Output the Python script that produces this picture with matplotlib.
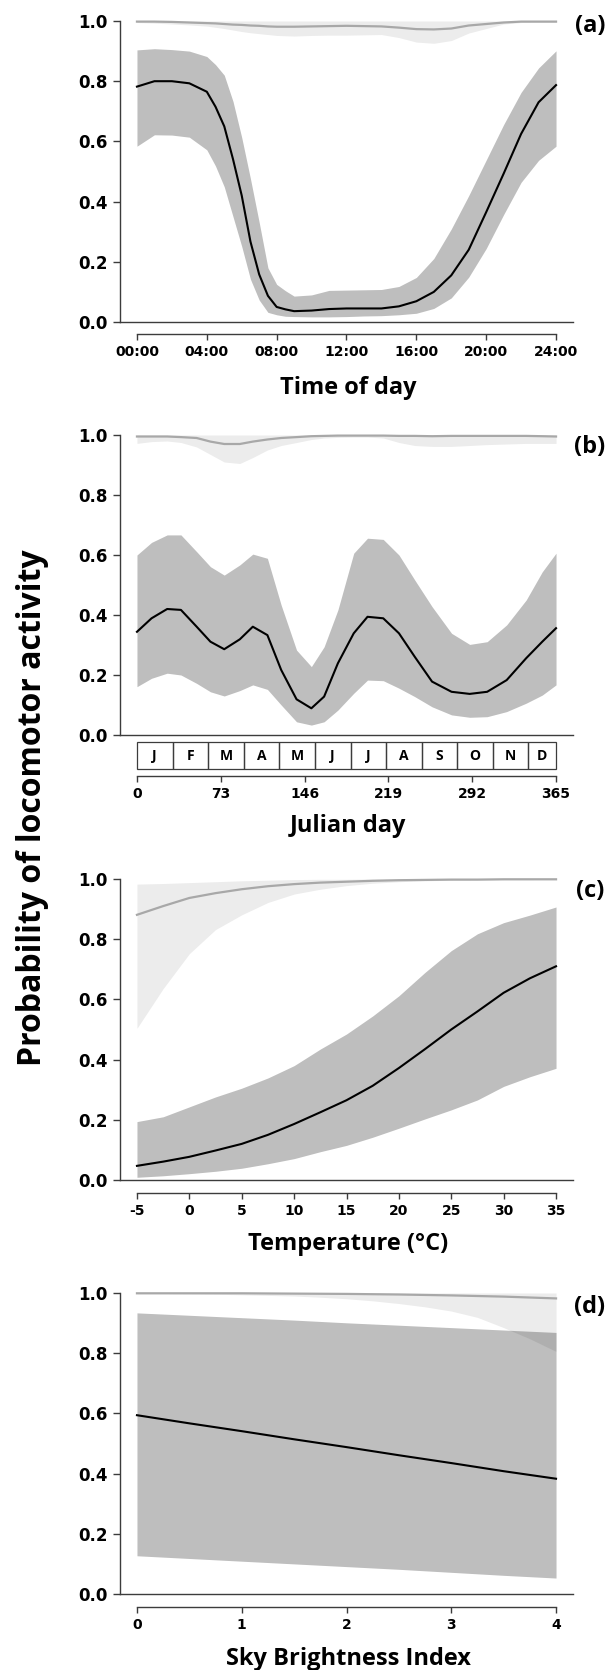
import matplotlib
matplotlib.use('Agg')
import matplotlib.pyplot as plt
from matplotlib.patches import Rectangle
from matplotlib.transforms import blended_transform_factory

plt.rcParams['font.family'] = ['Open Sans', 'DejaVu Sans']
plt.rcParams['font.weight'] = 'bold'

# %% data

# (a) time of day
hours = [0, 1, 2, 3, 4, 4.5, 5, 5.5, 6, 6.5, 7, 7.5, 8, 8.5, 9, 10, 11, 12, 13, 14, 15, 16, 17, 18,
         19, 20, 21, 22, 23, 24]
a_mean = [0.782, 0.800, 0.800, 0.793, 0.765, 0.715, 0.650, 0.541, 0.420, 0.267, 0.158, 0.087, 0.050,
          0.042, 0.036, 0.038, 0.043, 0.045, 0.045, 0.045, 0.052, 0.069, 0.100, 0.155, 0.240, 0.365,
          0.493, 0.625, 0.730, 0.787]
a_hi = [0.904, 0.908, 0.905, 0.900, 0.882, 0.855, 0.820, 0.733, 0.613, 0.476, 0.331, 0.180, 0.125,
        0.104, 0.086, 0.090, 0.105, 0.106, 0.107, 0.108, 0.118, 0.148, 0.211, 0.309, 0.420, 0.538,
        0.656, 0.763, 0.844, 0.901]
a_lo = [0.584, 0.622, 0.621, 0.614, 0.572, 0.518, 0.449, 0.350, 0.251, 0.142, 0.073, 0.032, 0.024,
        0.019, 0.018, 0.017, 0.017, 0.018, 0.020, 0.021, 0.024, 0.029, 0.045, 0.080, 0.149, 0.244,
        0.357, 0.464, 0.537, 0.584]
a_top = [0.998, 0.998, 0.997, 0.995, 0.993, 0.992, 0.990, 0.988, 0.987, 0.985, 0.984, 0.982, 0.981,
         0.981, 0.981, 0.982, 0.983, 0.984, 0.983, 0.982, 0.978, 0.973, 0.972, 0.975, 0.985, 0.990,
         0.995, 0.998, 0.998, 0.998]
a_top_lo = [0.995, 0.993, 0.990, 0.987, 0.983, 0.979, 0.975, 0.970, 0.965, 0.961, 0.958, 0.955, 0.952,
            0.951, 0.950, 0.952, 0.953, 0.953, 0.954, 0.955, 0.945, 0.930, 0.926, 0.935, 0.960, 0.975,
            0.990, 0.995, 0.996, 0.996]

# (b) julian day
days = [0, 12.7, 26.3, 38.3, 52, 64, 76, 89.6, 100.9, 113.6, 125.6, 139, 151.9, 163, 175, 188.8,
        200.8, 214.5, 228.2, 241.9, 257, 274, 289.8, 305, 322, 339, 353, 365]
b_mean = [0.344, 0.389, 0.420, 0.417, 0.361, 0.311, 0.286, 0.319, 0.361, 0.333, 0.217, 0.119, 0.089,
          0.128, 0.239, 0.339, 0.394, 0.389, 0.339, 0.261, 0.178, 0.144, 0.137, 0.144, 0.183, 0.256,
          0.311, 0.356]
b_hi = [0.600, 0.642, 0.667, 0.667, 0.611, 0.561, 0.533, 0.567, 0.603, 0.589, 0.433, 0.283, 0.228,
        0.294, 0.417, 0.606, 0.656, 0.652, 0.600, 0.517, 0.428, 0.339, 0.302, 0.311, 0.367, 0.450,
        0.544, 0.606]
b_lo = [0.161, 0.189, 0.206, 0.200, 0.172, 0.144, 0.130, 0.148, 0.167, 0.152, 0.100, 0.044, 0.033,
        0.044, 0.083, 0.139, 0.183, 0.181, 0.156, 0.128, 0.094, 0.067, 0.059, 0.061, 0.078, 0.106,
        0.133, 0.167]
b_top = [0.995, 0.995, 0.995, 0.993, 0.990, 0.978, 0.970, 0.970, 0.978, 0.985, 0.990, 0.993, 0.996,
         0.997, 0.998, 0.998, 0.998, 0.998, 0.997, 0.997, 0.996, 0.997, 0.997, 0.997, 0.997, 0.997,
         0.996, 0.995]
b_top_lo = [0.972, 0.978, 0.980, 0.975, 0.960, 0.935, 0.910, 0.905, 0.925, 0.950, 0.965, 0.975, 0.985,
            0.990, 0.992, 0.993, 0.993, 0.990, 0.975, 0.965, 0.962, 0.962, 0.965, 0.968, 0.970, 0.972,
            0.972, 0.972]
months = ['J', 'F', 'M', 'A', 'M', 'J', 'J', 'A', 'S', 'O', 'N', 'D']

# (c) temperature
temp = [-5, -2.5, 0, 2.5, 5, 7.5, 10, 12.5, 15, 17.5, 20, 22.5, 25, 27.5, 30, 32.5, 35]
c_mean = [0.047, 0.061, 0.077, 0.098, 0.120, 0.150, 0.186, 0.225, 0.265, 0.313, 0.372, 0.435, 0.500,
          0.560, 0.622, 0.670, 0.710]
c_hi = [0.194, 0.210, 0.243, 0.276, 0.305, 0.339, 0.380, 0.435, 0.485, 0.545, 0.612, 0.690, 0.762,
        0.818, 0.855, 0.880, 0.907]
c_lo = [0.009, 0.014, 0.021, 0.029, 0.039, 0.054, 0.071, 0.094, 0.115, 0.142, 0.172, 0.203, 0.233,
        0.266, 0.311, 0.343, 0.371]
c_top = [0.881, 0.910, 0.937, 0.953, 0.966, 0.976, 0.983, 0.988, 0.991, 0.994, 0.996, 0.997, 0.998,
         0.998, 0.999, 0.999, 0.999]
c_top_lo = [0.504, 0.636, 0.752, 0.832, 0.881, 0.922, 0.950, 0.966, 0.978, 0.986, 0.991, 0.994, 0.996,
            0.997, 0.998, 0.998, 0.999]
c_top_hi = [0.983, 0.985, 0.988, 0.991, 0.994, 0.996, 0.998, 0.999, 0.999, 1.0, 1.0, 1.0, 1.0,
            1.0, 1.0, 1.0, 1.0]

# (d) sky brightness index
sbi = [0, 0.5, 1, 1.5, 2, 2.5, 3, 3.5, 4]
d_mean = [0.594, 0.567, 0.541, 0.514, 0.488, 0.461, 0.435, 0.408, 0.383]
d_hi = [0.934, 0.926, 0.918, 0.910, 0.901, 0.893, 0.885, 0.877, 0.869]
d_lo = [0.127, 0.118, 0.109, 0.100, 0.091, 0.082, 0.072, 0.062, 0.053]
d_top = [0.999, 0.999, 0.999, 0.998, 0.997, 0.995, 0.992, 0.988, 0.982]
d_top_hi = [1.0, 1.0, 1.0, 1.0, 1.0, 1.0, 0.999, 0.998, 0.996]
sbi_fine = [0, 0.25, 0.5, 0.75, 1, 1.25, 1.5, 1.75, 2, 2.25, 2.5, 2.75, 3, 3.25, 3.5, 3.75, 4]
d_top_lo = [0.998, 0.998, 0.997, 0.996, 0.994, 0.992, 0.990, 0.986, 0.981, 0.974, 0.965, 0.954,
            0.940, 0.919, 0.885, 0.848, 0.806]

# %% plot

W, H = 615, 1670
fig = plt.figure(figsize=(W / 100, H / 100), dpi=100)

AX_COL = '#3c3c3c'
LIGHT = '#ececec'
GRAYLINE = '#a8a8a8'
NUMFONT = 'DejaVu Sans'


def make_ax(top_px, bottom_px, x0, x1, ticks, ticklabels, offset_px, letter, letter_dy):
    ax = fig.add_axes([120.2 / W, 1 - bottom_px / H, (572.8 - 120.2) / W, (bottom_px - top_px) / H])
    span = x1 - x0
    ax.set_xlim(x0 - 0.04 * span, x1 + 0.04 * span)
    ax.set_ylim(0, 1)
    for s in ['top', 'right']:
        ax.spines[s].set_visible(False)
    for s in ['left', 'bottom']:
        ax.spines[s].set_color(AX_COL)
        ax.spines[s].set_linewidth(1.0)
    ax.spines['bottom'].set_position(('outward', offset_px * 0.72))
    ax.spines['bottom'].set_bounds(x0, x1)
    ax.axhline(0, color=AX_COL, lw=1.0, clip_on=False, zorder=5)
    ax.set_yticks([0, 0.2, 0.4, 0.6, 0.8, 1.0])
    ax.set_yticklabels(['0.0', '0.2', '0.4', '0.6', '0.8', '1.0'], fontfamily=NUMFONT,
                       fontweight='bold', fontsize=12)
    ax.set_xticks(ticks)
    ax.set_xticklabels(ticklabels, fontfamily=NUMFONT, fontweight='bold', fontsize=10)
    ax.tick_params(axis='y', direction='out', length=5, width=1, color=AX_COL, pad=4)
    ax.tick_params(axis='x', direction='out', length=4, width=1, color=AX_COL, pad=4)
    fig.text(590 / W, 1 - (top_px + letter_dy) / H, letter, ha='center', va='center', fontsize=17)
    return ax


def draw(ax, x, mean, lo, hi, xt, top, top_lo, top_hi, xl=None):
    xl = x if xl is None else xl
    ax.fill_between(xl, top_lo, top_hi, color=LIGHT, lw=0, zorder=1)
    ax.plot(xt, top, color=GRAYLINE, lw=1.6, zorder=2, clip_on=False)
    ax.fill_between(x, lo, hi, color='black', alpha=0.255, lw=0, zorder=3)
    ax.plot(x, mean, color='black', lw=1.5, zorder=4)


# (a)
ax = make_ax(21, 322, 0, 24, [0, 4, 8, 12, 16, 20, 24],
             ['00:00', '04:00', '08:00', '12:00', '16:00', '20:00', '24:00'], 12, '(a)', 5)
draw(ax, hours, a_mean, a_lo, a_hi, hours, a_top, a_top_lo, [1.0] * len(hours))
fig.text(348 / W, 1 - 376 / H, 'Time of day', ha='center', va='top', fontsize=17)

# (b)
ax = make_ax(435, 735, 0, 365, [0, 73, 146, 219, 292, 365],
             ['0', '73', '146', '219', '292', '365'], 41, '(b)', 12)
draw(ax, days, b_mean, b_lo, b_hi, days, b_top, b_top_lo, [1.0] * len(days))
tr = blended_transform_factory(ax.transData, ax.transAxes)
hpx = 735 - 435
for i, m in enumerate(months):
    left = i * 31
    right = min(left + 31, 365)
    ax.add_patch(Rectangle((left, -34.3 / hpx), right - left, 27 / hpx, transform=tr,
                           fill=False, ec=AX_COL, lw=0.9, clip_on=False))
    ax.text((left + right) / 2, -20.8 / hpx, m, transform=tr, ha='center', va='center',
            fontsize=10)
fig.text(348 / W, 1 - 814 / H, 'Julian day', ha='center', va='top', fontsize=17)

# (c)
ax = make_ax(879, 1180, -5, 35, [-5, 0, 5, 10, 15, 20, 25, 30, 35],
             ['-5', '0', '5', '10', '15', '20', '25', '30', '35'], 13, '(c)', 12)
draw(ax, temp, c_mean, c_lo, c_hi, temp, c_top, c_top_lo, c_top_hi)
fig.text(348 / W, 1 - 1232 / H, 'Temperature (°C)', ha='center', va='top', fontsize=17)

# (d)
ax = make_ax(1293, 1594, 0, 4, [0, 1, 2, 3, 4], ['0', '1', '2', '3', '4'], 13, '(d)', 14)
ax.fill_between(sbi_fine, d_top_lo, [1.0] * len(sbi_fine), color=LIGHT, lw=0, zorder=1)
draw(ax, sbi, d_mean, d_lo, d_hi, sbi, d_top, d_top_hi, d_top_hi)
fig.text(348 / W, 1 - 1647 / H, 'Sky Brightness Index', ha='center', va='top', fontsize=17)

fig.text(33 / W, 1 - 808 / H, 'Probability of locomotor activity', rotation=90,
         ha='center', va='center', fontsize=23)

plt.savefig('out.png', dpi=100)
